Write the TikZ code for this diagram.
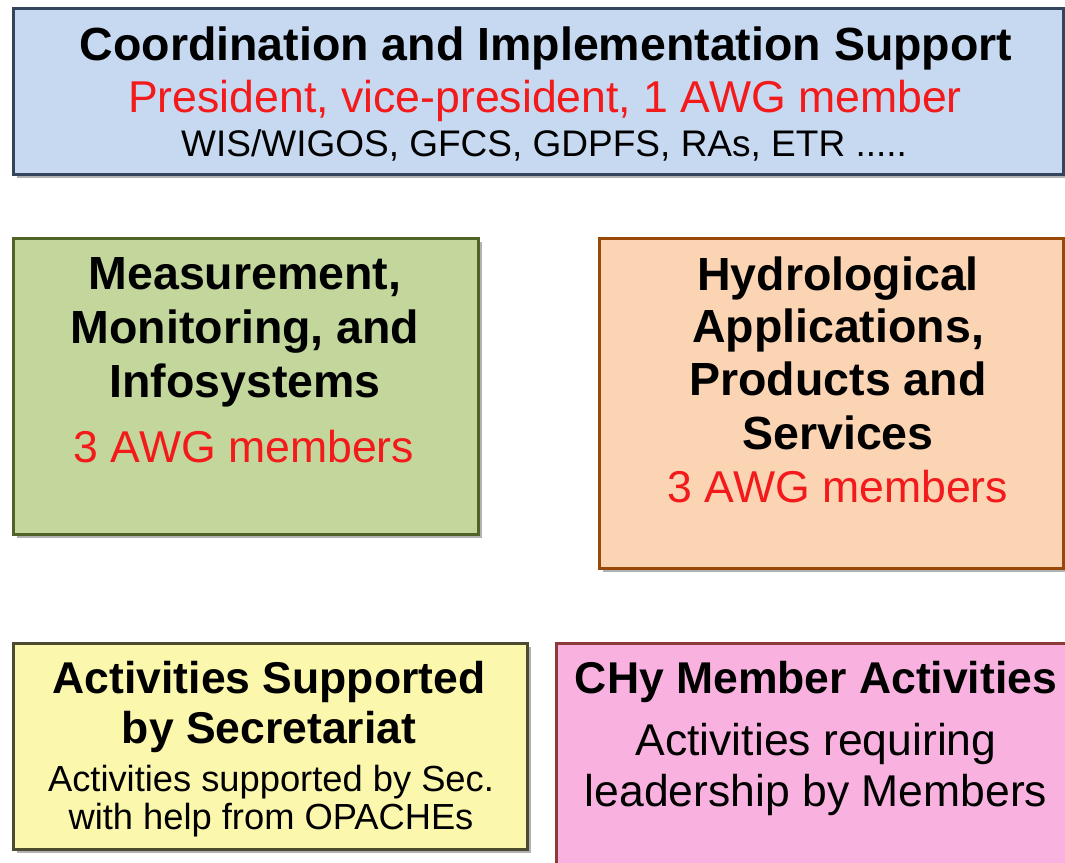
\documentclass[tikz,border=0pt]{standalone}
\usepackage{fontspec}
\setmainfont{Liberation Sans}
\usetikzlibrary{shadows}
\definecolor{topfill}{HTML}{C6D9F1}
\definecolor{topdraw}{HTML}{34445A}
\definecolor{grnfill}{HTML}{C3D69B}
\definecolor{grndraw}{HTML}{4F6228}
\definecolor{orgfill}{HTML}{FBD4B4}
\definecolor{orgdraw}{HTML}{984807}
\definecolor{ylwfill}{HTML}{FBF7AC}
\definecolor{ylwdraw}{HTML}{4D4A30}
\definecolor{pnkfill}{HTML}{F9B2E0}
\definecolor{pnkdraw}{HTML}{8C3A3A}
\definecolor{txtred}{HTML}{F21A1A}
\begin{document}
\begin{tikzpicture}[x=1pt,y=-1pt,
  box/.style={line width=3pt, inner sep=0pt, anchor=north west,
    drop shadow={shadow xshift=3pt, shadow yshift=-3pt, opacity=0.3, fill=black}},
  ttl/.style={anchor=base, inner sep=0pt, font=\fontsize{46.5}{54}\selectfont\bfseries},
  ttlb/.style={anchor=base, inner sep=0pt, font=\fontsize{44.5}{52}\selectfont\bfseries},
  redtxt/.style={anchor=base, inner sep=0pt, text=txtred, font=\fontsize{44.6}{52}\selectfont},
  midtxt/.style={anchor=base, inner sep=0pt, font=\fontsize{44.5}{52}\selectfont},
  smalltxt/.style={anchor=base, inner sep=0pt, font=\fontsize{36.3}{42}\selectfont},
  toptxt/.style={anchor=base, inner sep=0pt, font=\fontsize{37}{42}\selectfont}
]
\useasboundingbox (0,0) rectangle (1065,862);
\clip (0,0) rectangle (1065,862);
\fill[white] (0,0) rectangle (1065,862);

% boxes
\node[box, fill=topfill, draw=topdraw, minimum width=1050pt, minimum height=166pt] (coord) at (12,7) {};
\node[box, fill=grnfill, draw=grndraw, minimum width=465pt, minimum height=296pt] (meas) at (12,237) {};
\node[box, fill=orgfill, draw=orgdraw, minimum width=464pt, minimum height=330pt] (hydro) at (598,237) {};
\node[box, fill=ylwfill, draw=ylwdraw, minimum width=514pt, minimum height=206pt] (secr) at (12,642) {};
\node[box, fill=pnkfill, draw=pnkdraw, minimum width=525pt, minimum height=240pt] (memb) at (555,642) {};

% top box text
\node[ttl] (c1) at (546,60) {Coordination and Implementation Support};
\node[redtxt] (c2) at (545,112) {President, vice-president, 1 AWG member};
\node[toptxt] (c3) at (544,156) {WIS/WIGOS, GFCS, GDPFS, RAs, ETR .....};

% green box text
\node[ttl] (m1) at (245,289) {Measurement,};
\node[ttl] (m2) at (245,343) {Monitoring, and};
\node[ttl] (m3) at (245,397) {Infosystems};
\node[redtxt] (m4) at (244,462) {3 AWG members};

% orange box text
\node[ttl] (h1) at (838,290) {Hydrological};
\node[ttl] (h2) at (838,342) {Applications,};
\node[ttl] (h3) at (838,395) {Products and};
\node[ttl] (h4) at (838,449) {Services};
\node[redtxt] (h5) at (838,502) {3 AWG members};

% yellow box text
\node[ttlb] (s1) at (269,693) {Activities Supported};
\node[ttlb] (s2) at (269,743) {by Secretariat};
\node[smalltxt] (s3) at (271,791) {Activities supported by Sec.};
\node[smalltxt] (s4) at (271,829) {with help from OPACHEs};

% pink box text
\node[ttlb] (p1) at (816,693) {CHy Member Activities};
\node[midtxt] (p2) at (816,755) {Activities requiring};
\node[midtxt] (p3) at (816,806) {leadership by Members};
\end{tikzpicture}
\end{document}
